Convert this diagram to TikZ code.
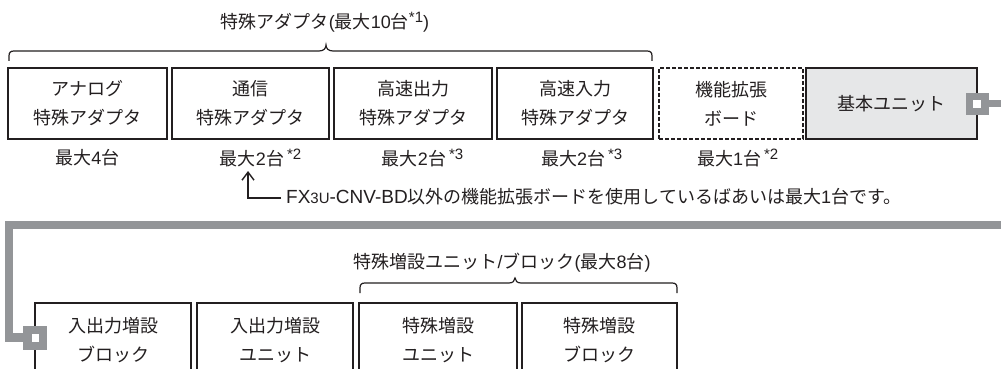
\documentclass[tikz,border=0pt]{standalone}
\usepackage{fontspec}
\setmainfont{Noto Sans CJK JP}
\newfontfamily\latf{Liberation Sans}
\usetikzlibrary{arrows.meta}
\definecolor{ink}{HTML}{231F20}
\definecolor{pipegray}{HTML}{939598}
\definecolor{basefill}{HTML}{E6E7E8}
\newcommand{\lt}[1]{{\latf #1}}
\newcommand{\supmark}[1]{{\latf\fontsize{15}{15}\selectfont\raisebox{0.38em}{#1}}}
\begin{document}
\begin{tikzpicture}[x=1pt,y=-1pt,
  unitbox/.style={draw=ink, line width=1.8pt, inner sep=0pt, align=center, text=ink,
    font=\fontsize{18}{29}\selectfont, minimum height=71pt},
  lowbox/.style={unitbox, minimum height=74pt},
  dashbox/.style={unitbox, line width=1.6pt, dash pattern=on 4pt off 2pt},
  basebox/.style={unitbox, fill=basefill},
  lbl/.style={inner sep=0pt, text=ink, font=\fontsize{18}{20}\selectfont},
  brace/.style={draw=ink, line width=1.2pt},
  port/.style={fill=pipegray, inner sep=0pt},
  portin/.style={fill=white, inner sep=0pt, minimum width=8pt, minimum height=8pt},
  pipeline/.style={draw=pipegray, line width=8.5pt, line join=miter},
  notearrow/.style={draw=ink, line width=1.4pt, -{Straight Barb[length=8pt,width=12pt]}}
]
\clip (0,0) rectangle (1001,369);
\fill[white] (0,0) rectangle (1001,369);

% gray cable
\draw[pipeline] (1012,225) -- (9,225) -- (9,337.5) -- (26,337.5);

% top row
\node[unitbox, minimum width=159pt] (b1) at (87.5,103.5) {アナログ\\特殊アダプタ};
\node[unitbox, minimum width=157pt] (b2) at (250.5,103.5) {通信\\特殊アダプタ};
\node[unitbox, minimum width=158pt] (b3) at (413,103.5) {高速出力\\特殊アダプタ};
\node[unitbox, minimum width=156pt] (b4) at (575,103.5) {高速入力\\特殊アダプタ};
\node[dashbox, minimum width=144pt] (b5) at (731,103.5) {機能拡張\\ボード};
\node[basebox, minimum width=171pt] (b6) at (891.5,103.5) {基本ユニット};

% top-right port
\draw[draw=pipegray, line width=7pt] (985,103.5) -- (1010,103.5);
\node[port, minimum width=23pt, minimum height=22pt] (p1) at (977.5,104) {};
\node[portin] (p1in) at (977,104) {};

% top brace and title
\draw[brace] (9,61) -- (9,56) .. controls (9,52.5) and (10.5,51) .. (14,51)
  -- (319,51) .. controls (323.5,51) and (326,48.5) .. (326,45)
  .. controls (326,48.5) and (328.5,51) .. (333,51)
  -- (647,51) .. controls (650.5,51) and (652,52.5) .. (652,56) -- (652,61);
\node[lbl] (t1) at (325,22) {特殊アダプタ\lt{(}最大\lt{10}台\supmark{*1}\lt{)}};

% labels under top row
\node[lbl] (l1) at (87.5,158) {最大\lt{4}台};
\node[lbl] (l2) at (252,158) {最大\lt{2}台\rlap{\,\supmark{*2}}};
\node[lbl] (l3) at (414,158) {最大\lt{2}台\rlap{\,\supmark{*3}}};
\node[lbl] (l4) at (573,158) {最大\lt{2}台\rlap{\,\supmark{*3}}};
\node[lbl] (l5) at (729,158) {最大\lt{1}台\rlap{\,\supmark{*2}}};

% note with arrow
\node[lbl, anchor=west] (note) at (286,197) {\lt{\fontsize{19}{20}\selectfont FX{\fontsize{15}{15}\selectfont 3U}-CNV-BD}以外の機能拡張ボードを使用しているばあいは最大\lt{1}台です。};
\coordinate (arrtip) at (248,171);
\draw[notearrow] ([xshift=-5pt]note.west |- 0,198) -| (arrtip);

% bottom row
\node[lowbox, minimum width=156pt] (c1) at (113,340) {入出力増設\\ブロック};
\node[lowbox, minimum width=156pt] (c2) at (275,340) {入出力増設\\ユニット};
\node[lowbox, minimum width=158pt] (c3) at (438,340) {特殊増設\\ユニット};
\node[lowbox, minimum width=155pt] (c4) at (599.5,340) {特殊増設\\ブロック};

% bottom-left port
\node[port, minimum width=24pt, minimum height=24pt] (p2) at (35,338) {};
\node[portin, minimum width=7pt] (p2in) at (35.5,338) {};

% bottom brace and title
\draw[brace] (360,293) -- (360,288) .. controls (360,284.5) and (361.5,283) .. (365,283)
  -- (509,283) .. controls (512.5,283) and (515,281) .. (515,278)
  .. controls (515,281) and (517.5,283) .. (521,283)
  -- (672,283) .. controls (675.5,283) and (677,284.5) .. (677,288) -- (677,293);
\node[lbl] (t2) at (502,263) {特殊増設ユニット\lt{/}ブロック\lt{(}最大\lt{8}台\lt{)}};
\end{tikzpicture}
\end{document}
